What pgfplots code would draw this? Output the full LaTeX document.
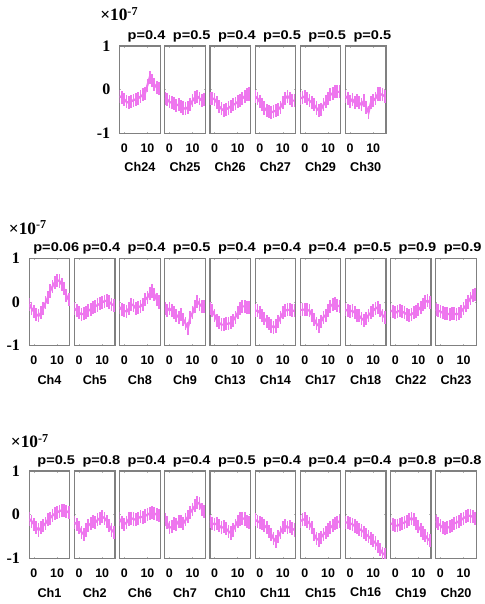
\documentclass[border=0pt]{standalone}
\usepackage{fontspec}
\setmainfont{Liberation Serif}
\newfontfamily\sfb{Liberation Sans}
\newfontfamily\plab{Liberation Sans}[FakeStretch=1.15]
\usepackage{pgfplots}
\usepackage{pgfplotstable}
\pgfplotsset{compat=1.18}
\definecolor{vio}{RGB}{238,118,238}
\definecolor{frm}{RGB}{128,128,128}

\pgfplotstableread{
x Ch24 Ch25 Ch26 Ch27 Ch29 Ch30
-2 -0.15 -0.20 -0.20 -0.15 -0.20 -0.15
-1 -0.18 -0.22 -0.20 -0.20 -0.18 -0.20
0 -0.22 -0.28 -0.22 -0.28 -0.15 -0.28
1 -0.28 -0.30 -0.30 -0.35 -0.20 -0.22
2 -0.30 -0.32 -0.38 -0.42 -0.25 -0.30
3 -0.27 -0.36 -0.44 -0.48 -0.30 -0.25
4 -0.24 -0.34 -0.48 -0.50 -0.35 -0.30
5 -0.22 -0.38 -0.45 -0.52 -0.42 -0.35
6 -0.20 -0.42 -0.42 -0.50 -0.48 -0.25
7 -0.16 -0.44 -0.38 -0.48 -0.45 -0.40
8 -0.12 -0.40 -0.35 -0.45 -0.35 -0.52
9 -0.08 -0.35 -0.32 -0.40 -0.28 -0.30
10 0.10 -0.25 -0.28 -0.30 -0.20 -0.25
11 0.28 -0.18 -0.24 -0.20 -0.12 -0.20
12 0.20 -0.15 -0.20 -0.15 -0.08 -0.10
13 0.12 -0.20 -0.15 -0.20 -0.05 -0.10
14 0.05 -0.25 -0.12 -0.25 -0.05 -0.12
15 0.02 -0.22 -0.10 -0.25 -0.05 -0.15
}\toprow

\pgfplotstableread{
x Ch4 Ch5 Ch8 Ch9 Ch13 Ch14 Ch17 Ch18 Ch22 Ch23
-2 -0.05 -0.15 -0.12 -0.15 -0.15 -0.20 -0.18 -0.18 -0.20 -0.18
-1 -0.15 -0.20 -0.18 -0.20 -0.20 -0.20 -0.18 -0.20 -0.22 -0.20
0 -0.22 -0.25 -0.20 -0.15 -0.30 -0.25 -0.17 -0.22 -0.25 -0.22
1 -0.28 -0.28 -0.22 -0.20 -0.42 -0.30 -0.18 -0.20 -0.22 -0.25
2 -0.32 -0.27 -0.15 -0.25 -0.48 -0.38 -0.20 -0.25 -0.20 -0.26
3 -0.25 -0.24 -0.05 -0.30 -0.52 -0.45 -0.30 -0.30 -0.22 -0.27
4 -0.15 -0.20 -0.08 -0.35 -0.52 -0.50 -0.40 -0.32 -0.25 -0.28
5 -0.02 -0.17 -0.15 -0.28 -0.50 -0.55 -0.50 -0.38 -0.28 -0.27
6 0.10 -0.13 -0.12 -0.40 -0.50 -0.58 -0.55 -0.42 -0.30 -0.27
7 0.25 -0.10 -0.10 -0.50 -0.48 -0.55 -0.45 -0.38 -0.28 -0.28
8 0.35 -0.07 -0.05 -0.60 -0.42 -0.45 -0.35 -0.30 -0.25 -0.27
9 0.45 -0.04 0.05 -0.35 -0.35 -0.35 -0.30 -0.25 -0.22 -0.22
10 0.50 -0.01 0.10 -0.25 -0.25 -0.25 -0.20 -0.20 -0.18 -0.15
11 0.48 0.02 0.20 -0.10 -0.15 -0.20 -0.10 -0.15 -0.12 -0.08
12 0.40 0.03 0.25 0.02 -0.10 -0.18 -0.05 -0.12 -0.05 0.00
13 0.30 0.00 0.18 -0.05 -0.10 -0.18 -0.03 -0.20 0.00 0.08
14 0.15 -0.05 0.05 -0.10 -0.12 -0.20 -0.08 -0.30 0.03 0.15
15 0.05 -0.08 0.00 -0.10 -0.12 -0.20 -0.10 -0.35 -0.02 0.18
}\midrow

\pgfplotstableread{
x Ch1 Ch2 Ch6 Ch7 Ch10 Ch11 Ch15 Ch16 Ch19 Ch20
-2 -0.10 -0.18 -0.10 -0.12 -0.15 -0.12 -0.15 -0.18 -0.20 -0.15
-1 -0.15 -0.22 -0.18 -0.18 -0.20 -0.15 -0.12 -0.18 -0.22 -0.20
0 -0.22 -0.30 -0.22 -0.30 -0.22 -0.18 -0.10 -0.20 -0.25 -0.25
1 -0.30 -0.40 -0.18 -0.28 -0.20 -0.20 -0.15 -0.22 -0.25 -0.30
2 -0.35 -0.45 -0.10 -0.20 -0.25 -0.25 -0.20 -0.26 -0.22 -0.32
3 -0.30 -0.35 -0.08 -0.22 -0.30 -0.30 -0.30 -0.30 -0.20 -0.30
4 -0.25 -0.25 -0.10 -0.15 -0.28 -0.38 -0.45 -0.33 -0.18 -0.28
5 -0.20 -0.20 -0.12 -0.15 -0.32 -0.45 -0.55 -0.36 -0.15 -0.25
6 -0.12 -0.15 -0.08 -0.20 -0.38 -0.55 -0.58 -0.40 -0.12 -0.20
7 -0.08 -0.18 -0.05 -0.12 -0.42 -0.62 -0.52 -0.45 -0.08 -0.18
8 -0.02 -0.12 -0.06 -0.05 -0.35 -0.50 -0.45 -0.50 -0.12 -0.15
9 0.02 -0.08 -0.03 0.05 -0.25 -0.40 -0.40 -0.55 -0.20 -0.12
10 0.05 -0.05 0.00 0.12 -0.15 -0.30 -0.35 -0.60 -0.28 -0.08
11 0.08 -0.08 0.03 0.20 -0.10 -0.25 -0.30 -0.65 -0.35 -0.05
12 0.10 -0.15 0.04 0.28 -0.08 -0.30 -0.25 -0.72 -0.42 -0.02
13 0.10 -0.25 0.03 0.25 -0.10 -0.28 -0.20 -0.80 -0.48 -0.03
14 0.08 -0.35 0.00 0.12 -0.15 -0.32 -0.18 -0.88 -0.55 -0.05
15 0.05 -0.40 -0.02 0.08 -0.18 -0.35 -0.15 -0.92 -0.60 -0.08
}\botrow

\pgfplotsset{panel/.style={
  anchor=north west, scale only axis, width=30.375pt, height=65.5pt,
  xmin=-2, xmax=15.5, ymin=-1, ymax=1,
  xtick={0,10}, ytick={-1,0,1}, yticklabels={},
  axis line style={draw=frm, line width=0.9pt},
  tick style={draw=frm!60, line width=0.4pt},
  major tick length=1.2pt, tick align=inside,
  /pgf/number format/assume math mode=true,
  xticklabel style={font=\sfb\bfseries\fontsize{9.3}{9.3}\selectfont, anchor=base, yshift=-14.25pt, inner sep=0pt},
  xlabel style={font=\sfb\bfseries\fontsize{9.5}{9.5}\selectfont, at={(axis description cs:0.5,0)}, anchor=base, yshift=-29pt, inner sep=0pt},
  every axis title/.style={font=\plab\bfseries\fontsize{9.5}{9.5}\selectfont, at={(axis description cs:0.5,1)}, anchor=base, yshift=5pt, xshift=5pt, inner sep=0pt},
  yticklabel style={font=\bfseries\fontsize{12}{12}\selectfont, xshift=-3.5pt},
},
dat/.style={color=vio, line width=1.6pt, mark=none,
  error bars/.cd, y dir=both, y fixed=0.15,
  error bar style={color=vio, line width=1.3pt},
  error mark=none}
}

\newcommand\pan[6]{%
\begin{axis}[panel, at={(#1pt,#2pt)}, title={p=#3}, xlabel={#4}, #6]
\addplot[dat] table[x=x, y=#4] {#5};
\end{axis}}

\begin{document}
\begin{tikzpicture}
\path[use as bounding box] (0,0) rectangle (363.75pt,453pt);
% top row
\pan{89.72}{418.5}{0.4}{Ch24}{\toprow}{yticklabels={-1,0,1}}
\pan{123.59}{418.5}{0.5}{Ch25}{\toprow}{}
\pan{157.46}{418.5}{0.4}{Ch26}{\toprow}{}
\pan{191.33}{418.5}{0.5}{Ch27}{\toprow}{}
\pan{225.20}{418.5}{0.5}{Ch29}{\toprow}{}
\pan{259.07}{418.5}{0.5}{Ch30}{\toprow}{}
% middle row
\pan{21.98}{259.28}{0.06}{Ch4}{\midrow}{yticklabels={-1,0,1}}
\pan{55.85}{259.28}{0.4}{Ch5}{\midrow}{}
\pan{89.72}{259.28}{0.4}{Ch8}{\midrow}{}
\pan{123.59}{259.28}{0.5}{Ch9}{\midrow}{}
\pan{157.46}{259.28}{0.4}{Ch13}{\midrow}{}
\pan{191.33}{259.28}{0.4}{Ch14}{\midrow}{}
\pan{225.20}{259.28}{0.4}{Ch17}{\midrow}{}
\pan{259.07}{259.28}{0.5}{Ch18}{\midrow}{}
\pan{292.94}{259.28}{0.9}{Ch22}{\midrow}{}
\pan{326.81}{259.28}{0.9}{Ch23}{\midrow}{}
% bottom row
\pan{21.98}{99.75}{0.5}{Ch1}{\botrow}{yticklabels={-1,0,1}}
\pan{55.85}{99.75}{0.8}{Ch2}{\botrow}{}
\pan{89.72}{99.75}{0.4}{Ch6}{\botrow}{}
\pan{123.59}{99.75}{0.4}{Ch7}{\botrow}{}
\pan{157.46}{99.75}{0.5}{Ch10}{\botrow}{}
\pan{191.33}{99.75}{0.4}{Ch11}{\botrow}{}
\pan{225.20}{99.75}{0.4}{Ch15}{\botrow}{}
\pan{259.07}{99.75}{0.4}{Ch16}{\botrow}{}
\pan{292.94}{99.75}{0.8}{Ch19}{\botrow}{}
\pan{326.81}{99.75}{0.8}{Ch20}{\botrow}{}
% exponent labels
\node[anchor=base west, inner sep=0pt, font=\bfseries\fontsize{13}{13}\selectfont] at (75pt,437.25pt) {×10\textsuperscript{-7}};
\node[anchor=base west, inner sep=0pt, font=\bfseries\fontsize{13}{13}\selectfont] at (6.5pt,277.1pt) {×10\textsuperscript{-7}};
\node[anchor=base west, inner sep=0pt, font=\bfseries\fontsize{13}{13}\selectfont] at (8pt,117pt) {×10\textsuperscript{-7}};
\end{tikzpicture}
\end{document}
